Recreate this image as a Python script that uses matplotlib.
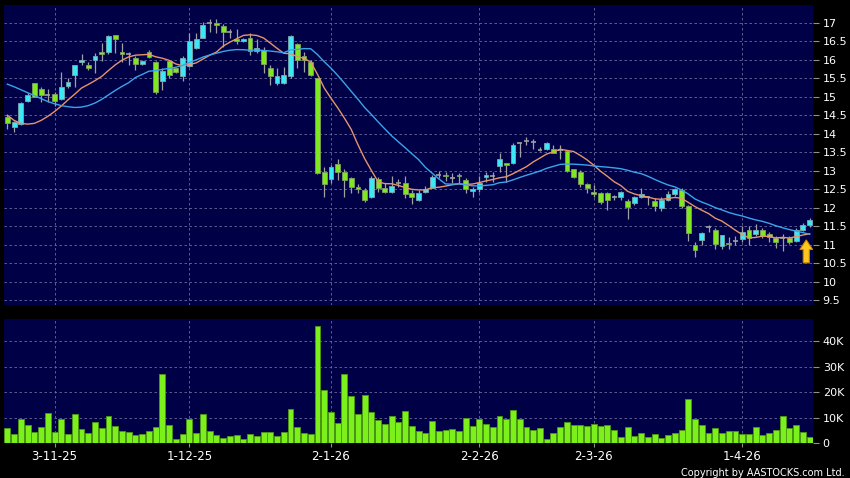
import numpy as np
import pandas as pd
import matplotlib
matplotlib.use("Agg")
import matplotlib.pyplot as plt
from matplotlib.patches import FancyArrow

# daily OHLC (oldest first)
opens = [14.44, 14.19, 14.26, 14.88, 15.36, 15.20, 15.04, 15.07, 14.93, 15.30,
         15.60, 15.93, 15.87, 16.00, 16.22, 16.20, 16.66, 16.21, 16.15, 16.06,
         15.88, 16.22, 15.93, 15.42, 15.97, 15.77, 15.57, 15.84, 16.33, 16.60,
         16.98, 16.98, 16.92, 16.76, 16.57, 16.50, 16.58, 16.24, 16.26, 15.79,
         15.36, 15.36, 15.56, 16.42, 16.10, 15.94, 15.50, 12.97, 12.77, 13.18,
         12.97, 12.79, 12.57, 12.48, 12.28, 12.77, 12.52, 12.43, 12.68, 12.68,
         12.39, 12.21, 12.42, 12.54, 12.88, 12.88, 12.79, 12.88, 12.75, 12.44,
         12.50, 12.84, 12.86, 13.14, 13.20, 13.20, 13.74, 13.81, 13.78, 13.56,
         13.58, 13.60, 13.56, 13.54, 13.04, 12.97, 12.63, 12.43, 12.39, 12.40,
         12.28, 12.28, 12.19, 12.13, 12.30, 12.28, 12.19, 11.99, 12.22, 12.37,
         12.49, 12.04, 10.99, 11.13, 11.47, 11.41, 10.96, 11.05, 11.11, 11.16,
         11.41, 11.29, 11.41, 11.29, 11.19, 11.18, 11.19, 11.11, 11.41, 11.52]
highs = [14.50, 14.35, 14.85, 15.09, 15.38, 15.25, 15.22, 15.12, 15.68, 15.50,
         15.87, 16.15, 15.94, 16.17, 16.44, 16.66, 16.68, 16.44, 16.20, 16.10,
         16.00, 16.26, 15.96, 15.77, 16.00, 15.78, 16.10, 16.71, 16.71, 17.03,
         17.11, 17.11, 16.96, 16.82, 16.82, 16.60, 16.71, 16.55, 16.35, 15.86,
         15.77, 15.81, 16.67, 16.44, 16.22, 15.99, 15.50, 13.11, 13.15, 13.31,
         13.06, 12.84, 12.64, 12.52, 12.86, 12.82, 12.68, 12.86, 12.77, 12.86,
         12.48, 12.47, 12.59, 12.88, 12.99, 12.97, 12.93, 12.93, 12.79, 12.55,
         12.86, 12.97, 12.97, 13.49, 13.20, 13.74, 13.78, 13.90, 13.87, 13.65,
         13.78, 13.69, 13.69, 13.56, 13.06, 13.02, 12.68, 12.61, 12.43, 12.42,
         12.34, 12.46, 12.24, 12.33, 12.53, 12.33, 12.26, 12.28, 12.46, 12.53,
         12.53, 12.06, 11.07, 11.34, 11.54, 11.46, 11.27, 11.20, 11.23, 11.50,
         11.50, 11.56, 11.45, 11.34, 11.23, 11.29, 11.23, 11.45, 11.59, 11.72]
lows = [14.12, 14.05, 14.24, 14.86, 14.98, 14.87, 14.87, 14.75, 14.90, 15.23,
        15.25, 15.86, 15.72, 15.65, 15.96, 16.15, 16.19, 15.95, 15.86, 15.72,
        15.85, 16.04, 15.07, 15.18, 15.52, 15.64, 15.43, 15.81, 16.30, 16.58,
        16.76, 16.73, 16.35, 16.58, 16.42, 16.48, 16.13, 16.17, 15.65, 15.32,
        15.32, 15.34, 15.50, 15.77, 15.67, 15.56, 12.90, 12.30, 12.66, 12.75,
        12.28, 12.39, 12.39, 12.16, 12.25, 12.43, 12.41, 12.41, 12.57, 12.25,
        12.10, 12.19, 12.39, 12.52, 12.79, 12.73, 12.66, 12.66, 12.41, 12.30,
        12.43, 12.70, 12.70, 12.97, 12.70, 13.18, 13.36, 13.69, 13.58, 13.52,
        13.56, 13.47, 13.33, 12.97, 12.79, 12.55, 12.40, 12.30, 12.10, 11.95,
        12.22, 12.22, 11.70, 12.06, 12.26, 12.06, 11.92, 11.92, 12.19, 12.33,
        11.99, 11.11, 10.66, 10.98, 11.34, 10.89, 10.89, 10.89, 10.98, 11.07,
        10.99, 11.23, 11.18, 11.07, 10.91, 10.84, 11.02, 11.08, 11.36, 11.48]
closes = [14.30, 14.33, 14.82, 15.06, 15.00, 15.06, 15.04, 14.89, 15.25, 15.41,
          15.85, 15.98, 15.78, 16.10, 16.15, 16.65, 16.55, 16.15, 16.15, 15.88,
          15.96, 16.08, 15.13, 15.70, 15.59, 15.66, 16.06, 16.51, 16.57, 16.93,
          16.98, 16.93, 16.76, 16.76, 16.50, 16.57, 16.24, 16.33, 15.88, 15.56,
          15.56, 15.59, 16.64, 15.99, 16.00, 15.58, 12.93, 12.64, 13.11, 12.97,
          12.75, 12.57, 12.50, 12.21, 12.79, 12.54, 12.43, 12.60, 12.68, 12.37,
          12.28, 12.41, 12.50, 12.84, 12.88, 12.86, 12.79, 12.85, 12.50, 12.50,
          12.66, 12.88, 12.86, 13.31, 13.15, 13.69, 13.74, 13.81, 13.78, 13.56,
          13.74, 13.47, 13.56, 12.99, 12.84, 12.64, 12.52, 12.36, 12.16, 12.21,
          12.28, 12.42, 12.01, 12.28, 12.37, 12.28, 12.04, 12.22, 12.37, 12.51,
          12.04, 11.32, 10.86, 11.31, 11.47, 11.02, 11.25, 11.01, 11.11, 11.34,
          11.18, 11.41, 11.23, 11.20, 11.07, 11.18, 11.07, 11.40, 11.54, 11.66]
# volume in thousands
volumes_k = [6.0, 3.6, 9.4, 7.3, 4.4, 6.4, 11.8, 4.4, 9.5, 3.6,
             11.4, 5.5, 3.9, 8.3, 5.8, 10.6, 6.6, 4.8, 4.3, 3.2,
             3.5, 4.7, 6.2, 27.1, 7.1, 1.6, 3.8, 9.6, 4.0, 11.3,
             4.7, 3.2, 2.2, 2.9, 3.1, 1.8, 3.5, 2.7, 4.4, 4.4,
             2.9, 4.3, 13.6, 6.4, 4.0, 3.6, 46.1, 21.0, 12.1, 7.8,
             27.3, 18.6, 11.6, 18.8, 12.2, 9.2, 7.7, 10.8, 8.3, 12.6,
             6.6, 4.8, 3.9, 8.6, 4.7, 5.3, 5.5, 4.8, 9.9, 6.8,
             9.7, 7.7, 6.2, 10.6, 9.4, 13.0, 9.4, 6.4, 5.1, 6.0,
             1.6, 3.9, 6.5, 8.2, 7.0, 7.3, 6.9, 7.4, 6.8, 7.3,
             5.3, 2.3, 6.5, 3.0, 4.0, 2.6, 3.5, 2.1, 3.2, 3.9,
             5.2, 17.3, 9.7, 7.3, 4.2, 5.8, 4.2, 4.8, 4.7, 3.8,
             3.8, 6.2, 3.4, 4.2, 5.3, 10.6, 6.1, 7.0, 4.3, 2.6]
# moving-average values at the left edge (history before the window)
ma10_head = [14.50, 14.36, 14.28, 14.26, 14.28, 14.36, 14.47, 14.60, 14.75]
ma20_head = [15.34, 15.27, 15.19, 15.11, 15.03, 14.95, 14.87, 14.81, 14.76, 14.73,
             14.71, 14.72, 14.76, 14.83, 14.93, 15.05, 15.17, 15.28, 15.38]
date_idx = [7, 27, 48, 70, 87, 109]
date_labels = ["3-11-25", "1-12-25", "2-1-26", "2-2-26", "2-3-26", "1-4-26"]

df = pd.DataFrame({"open": opens, "high": highs, "low": lows, "close": closes,
                   "vol": np.array(volumes_k) * 1000})
ma10 = df["close"].rolling(10).mean()
ma10.iloc[:9] = ma10_head
ma20 = df["close"].rolling(20).mean()
ma20.iloc[:19] = ma20_head

BG = "#000046"
GRID = "#6a6a9c"
CYAN = "#3ce8f4"
GREEN = "#80e81e"
WICK = "#a0a0a0"

fig = plt.figure(figsize=(8.5, 4.78), dpi=100, facecolor="black")
ax = fig.add_axes([4 / 850, 1 - 305 / 478, 809 / 850, 300 / 478])
axv = fig.add_axes([4 / 850, 1 - 443.3 / 478, 809 / 850, 124.3 / 478])

x = np.arange(len(df))
up = df["close"] > df["open"]
down = df["close"] < df["open"]
flat = df["close"] == df["open"]

for a in (ax, axv):
    a.set_facecolor(BG)
    for s in a.spines.values():
        s.set_visible(False)
    a.set_xlim(-0.5, len(df) - 0.5)
    a.set_xticks(date_idx)
    a.yaxis.tick_right()
    a.tick_params(axis="y", colors="#909090", labelcolor="white", labelsize=8,
                  length=4, pad=3, width=0.8)
    a.grid(True, color=GRID, linestyle=(0, (3, 3)), linewidth=0.6)
    a.set_axisbelow(True)

# candles
ax.vlines(x, df["low"], df["high"], color=WICK, linewidth=0.9, zorder=2)
bot = np.minimum(df["open"], df["close"])
hgt = (df["close"] - df["open"]).abs()
ax.bar(x[up], hgt[up], bottom=bot[up], width=0.72, color=CYAN,
       edgecolor="#7aa8b0", linewidth=0.6, zorder=3)
ax.bar(x[down], hgt[down], bottom=bot[down], width=0.72, color=GREEN,
       edgecolor="#7ea060", linewidth=0.6, zorder=3)
ax.hlines(df["close"][flat], x[flat] - 0.36, x[flat] + 0.36, color=WICK,
          linewidth=1.2, zorder=3)

ax.plot(x, ma10, color="#e8946a", linewidth=1.0, zorder=4)
ax.plot(x, ma20, color="#3aa4ea", linewidth=1.0, zorder=4)

# marker arrow under the latest bars
last = len(df) - 1
ax.add_patch(FancyArrow(last - 0.5, df["low"].iloc[-2] - 0.85, 0, 0.62,
                        width=0.9, head_width=1.9, head_length=0.26,
                        length_includes_head=True, facecolor="#ffc81e",
                        edgecolor="#c88a00", linewidth=0.8, zorder=5))

ax.set_ylim(9.37, 17.48)
yt = np.arange(9.5, 17.01, 0.5)
ax.set_yticks(yt)
ax.set_yticklabels(["%g" % v for v in yt])
ax.tick_params(axis="x", bottom=False, labelbottom=False)

# volume
axv.bar(x, df["vol"], width=0.88, color="#7cf01a", edgecolor="#4c9a12",
        linewidth=0.6, zorder=3)
axv.set_ylim(0, 48700)
axv.set_yticks([0, 10000, 20000, 30000, 40000])
axv.set_yticklabels(["0", "10K", "20K", "30K", "40K"])
axv.set_xticklabels(date_labels)
axv.tick_params(axis="x", colors="#909090", labelcolor="white", labelsize=8.5,
                length=3, pad=2, width=0.8)

fig.text(0.994, 0.001, "Copyright by AASTOCKS.com Ltd.", color="white",
         fontsize=7, ha="right", va="bottom")

fig.savefig("out.png", dpi=100, facecolor="black")
